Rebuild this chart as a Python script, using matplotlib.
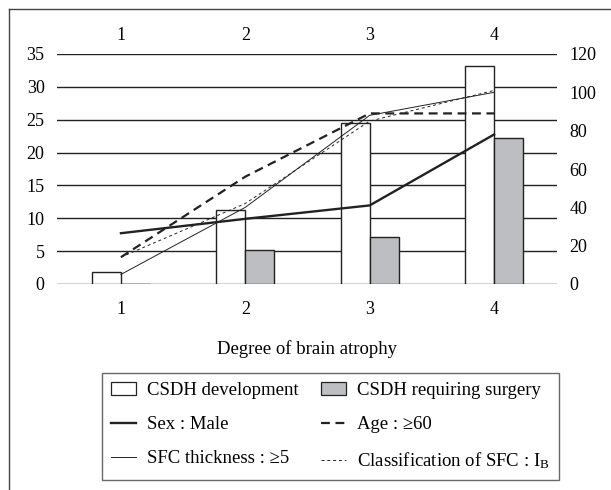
import matplotlib
matplotlib.use("Agg")
import matplotlib.pyplot as plt
from matplotlib.lines import Line2D
from matplotlib.patches import Patch
import numpy as np

plt.rcParams['font.family'] = ['Liberation Serif', 'DejaVu Serif']
plt.rcParams['mathtext.fontset'] = 'custom'
plt.rcParams['mathtext.rm'] = 'Liberation Serif'
plt.rcParams['mathtext.it'] = 'Liberation Serif:italic'
plt.rcParams['font.size'] = 13

categories = [1, 2, 3, 4]
csdh_development = [1.9, 11.2, 24.5, 33.2]
csdh_surgery = [0.0, 5.2, 7.1, 22.2]
sex_male = [26.5, 34, 41, 78]
age_60 = [14, 56, 89, 89]
sfc_thickness = [5, 40, 88, 100]
sfc_class_ib = [14, 42, 85, 101]
left_ticks = [0, 5, 10, 15, 20, 25, 30, 35]
right_ticks = [0, 20, 40, 60, 80, 100, 120]

W, H = 611, 490
fig = plt.figure(figsize=(W / 100, H / 100), dpi=100)
ax = fig.add_axes([57 / W, (H - 284) / H, 500 / W, 230 / H])
ink = '#222222'

x = np.array(categories, dtype=float)
bw = 0.232
ax.bar(x - bw / 2, csdh_development, bw, color='white', edgecolor=ink, linewidth=1.0, zorder=2)
ax.bar(x + bw / 2, csdh_surgery, bw, color='#bdbec2', edgecolor=ink, linewidth=1.0, zorder=2)
ax.set_xlim(0.486, 4.506)
ax.set_ylim(0, 35)
ax.set_yticks(left_ticks)
ax.set_axisbelow(True)
ax.yaxis.grid(True, color=ink, linewidth=1.0)
ax.set_xticks(categories)
ax.tick_params(axis='both', length=0)
ax.tick_params(axis='y', pad=9)
ax.tick_params(axis='x', pad=12)
ax.set_xlabel('Degree of brain atrophy', labelpad=16, fontsize=13.5)
for s in ax.spines.values():
    s.set_visible(False)

sec = ax.secondary_xaxis('top')
sec.set_xticks(categories)
sec.tick_params(length=0, pad=7)
for s in sec.spines.values():
    s.set_visible(False)

ax2 = ax.twinx()
ax2.set_ylim(0, 120)
ax2.set_yticks(right_ticks)
ax2.tick_params(axis='y', length=0, pad=9)
for s in ax2.spines.values():
    s.set_visible(False)
l_sex, = ax2.plot(x, sex_male, color=ink, linewidth=1.7)
l_age, = ax2.plot(x, age_60, color=ink, linewidth=1.6, dashes=(4, 2.5))
l_sfc, = ax2.plot(x, sfc_thickness, color=ink, linewidth=0.7)
l_cls, = ax2.plot(x, sfc_class_ib, color=ink, linewidth=0.7, dashes=(3, 3))

h_dev = Patch(facecolor='white', edgecolor=ink, linewidth=0.9)
h_sur = Patch(facecolor='#bdbec2', edgecolor=ink, linewidth=0.9)
handles = [h_dev, l_sex, l_sfc, h_sur, l_age, l_cls]
labels = ['CSDH development', 'Sex : Male', 'SFC thickness : \u22655',
          'CSDH requiring surgery', 'Age : \u226560', 'Classification of SFC : I$_\\mathrm{B}$']
leg = fig.legend(handles, labels, ncol=2, loc='upper left',
                 bbox_to_anchor=(102 / W, (H - 373) / H, 457 / W, 0.0001),
                 mode='expand', borderaxespad=0, fancybox=False, frameon=True,
                 edgecolor='#444444', handlelength=1.3, handletextpad=0.6,
                 labelspacing=0.9, borderpad=0.5, fontsize=13.5)
leg.get_frame().set_linewidth(1.0)

fig.add_artist(Line2D([9 / W, 9 / W], [0, 1 - 9 / H], transform=fig.transFigure, color='#444444', linewidth=1.0))
fig.add_artist(Line2D([9 / W, 1], [1 - 9 / H, 1 - 9 / H], transform=fig.transFigure, color='#444444', linewidth=1.0))

fig.savefig('out.png', dpi=100)
